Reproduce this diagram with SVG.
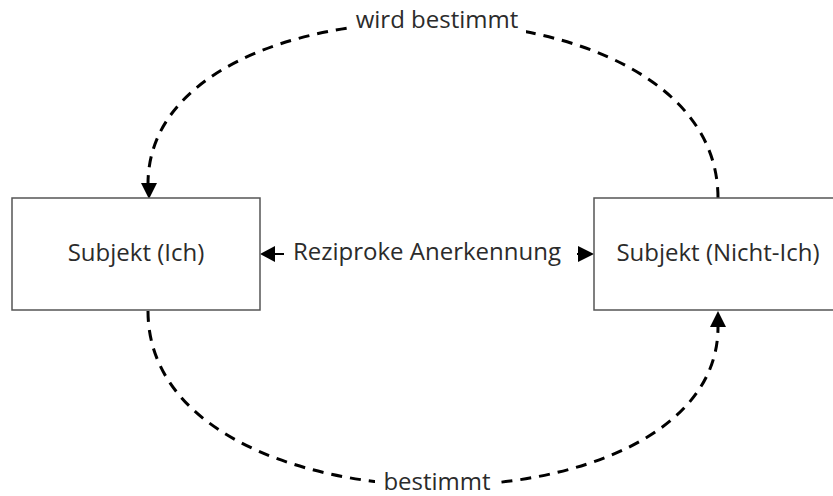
<svg xmlns="http://www.w3.org/2000/svg" width="833" height="496" viewBox="0 0 833 496">
  <style>
    .box { fill: #ffffff; stroke: #555555; stroke-width: 1.5; }
    .label { font-family: "Open Sans", "Noto Sans", "Liberation Sans", sans-serif; font-size: 24px; fill: #2b2b2b; text-anchor: middle; }
    .dash { fill: none; stroke: #000000; stroke-width: 3; stroke-dasharray: 11 8; }
    .solid { fill: none; stroke: #000000; stroke-width: 2; }
    .bg { fill: #ffffff; }
  </style>

  <rect width="833" height="496" fill="#ffffff"/>

  <g id="connectors">
    <!-- upper arc: Nicht-Ich -> Ich -->
    <g id="edge-wird-bestimmt">
      <path class="dash" d="M718,198 C718,-34 148,-34 148,184"/>
      <path d="M141,183 L157,183 L149,199 Z" fill="#000000"/>
      <rect class="bg" x="348" y="4" width="178" height="32"/>
      <text class="label" x="437" y="28">wird bestimmt</text>
    </g>
    <!-- lower arc: Ich -> Nicht-Ich -->
    <g id="edge-bestimmt">
      <path class="dash" d="M148,311 C148,541 718,541 718,327"/>
      <path d="M710,327 L726,327 L718,311 Z" fill="#000000"/>
      <rect class="bg" x="375" y="468" width="119" height="28"/>
      <text class="label" x="437" y="490">bestimmt</text>
    </g>
    <!-- mutual recognition between both subjects -->
    <g id="edge-reziprok">
      <line class="solid" x1="275" y1="254" x2="578" y2="254"/>
      <path d="M275,246 L275,262 L260,254 Z" fill="#000000"/>
      <path d="M578,246 L578,262 L594,254 Z" fill="#000000"/>
      <rect class="bg" x="284" y="238" width="293" height="32"/>
      <text class="label" x="427" y="260">Reziproke Anerkennung</text>
    </g>
  </g>

  <g id="node-ich">
    <rect class="box" x="12" y="198" width="248" height="112"/>
    <text class="label" x="136" y="261">Subjekt (Ich)</text>
  </g>

  <g id="node-nicht-ich">
    <rect class="box" x="594" y="198" width="248" height="112"/>
    <text class="label" x="718" y="261">Subjekt (Nicht-Ich)</text>
  </g>
</svg>
